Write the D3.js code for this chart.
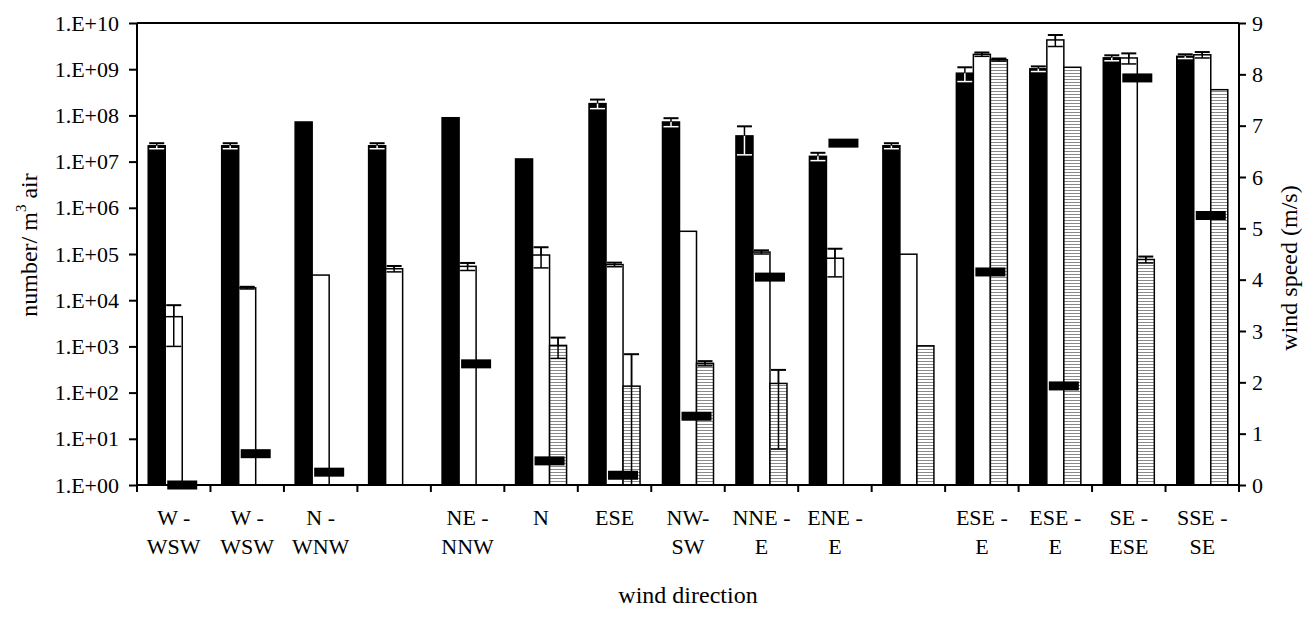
<!DOCTYPE html>
<html>
<head>
<meta charset="utf-8">
<script src="https://cdn.jsdelivr.net/npm/d3@7"></script>
<style>
  body { margin: 0; background: #fff; }
  text { font-family: "Liberation Serif", "Times New Roman", serif; fill: #000; }
  .axis path, .axis line { stroke: #000; stroke-width: 2; }
  .axis text { font-size: 22px; }
</style>
</head>
<body>
<svg></svg>
<script>
// wind direction labels (two lines each)
var dirLine1 = ["W -", "W -", "N -", "", "NE -", "N", "ESE", "NW-", "NNE -", "ENE -", "", "ESE -", "ESE -", "SE -", "SSE -"];
var dirLine2 = ["WSW", "WSW", "WNW", "", "NNW", "", "", "SW", "E", "E", "", "E", "E", "ESE", "SE"];

// black series (number / m3 air) and error
var blackVal = [2.2e7, 2.2e7, 7.2e7, 2.2e7, 8.9e7, 1.14e7, 1.8e8, 7.2e7, 3.6e7, 1.3e7, 2.2e7, 8.2e8, 1.02e9, 1.76e9, 1.9e9];
var blackErr = [3e6, 3e6, 0, 3e6, 0, 0, 4e7, 1.5e7, 2.2e7, 2.5e6, 3e6, 2.8e8, 1.3e8, 2.4e8, 2e8];

// white series
var whiteVal = [4.4e3, 1.85e4, 3.5e4, 4.8e4, 5.4e4, 9.5e4, 5.9e4, 3.1e5, 1.1e5, 8.1e4, 9.9e4, 2.1e9, 4.3e9, 1.75e9, 2.05e9];
var whiteErr = [3.4e3, 1e3, 0, 7e3, 1e4, 4.5e4, 6e3, 0, 1e4, 4.9e4, 0, 2e8, 1.2e9, 4.5e8, 3e8];

// hatched series
var hatchVal = [null, null, null, null, null, 1.05e3, 1.38e2, 4.3e2, 1.58e2, null, 1.03e3, 1.6e9, 1.1e9, 7.6e4, 3.6e8];
var hatchErr = [0, 0, 0, 0, 0, 5e2, 5.4e2, 5e1, 1.52e2, 0, 0, 1e8, 0, 1.2e4, 0];

// wind speed (m/s), right axis
var windSpeed = [0, 0.61, 0.25, null, 2.36, 0.47, 0.19, 1.34, 4.05, 6.66, null, 4.15, 1.93, 7.93, 5.25];

var leftTicks = [1e0, 1e1, 1e2, 1e3, 1e4, 1e5, 1e6, 1e7, 1e8, 1e9, 1e10];
var rightTicks = [0, 1, 2, 3, 4, 5, 6, 7, 8, 9];

var width = 1308, height = 623;
var margin = {top: 23, right: 69, bottom: 138, left: 137};

var svg = d3.select("svg").attr("width", width).attr("height", height);

var defs = svg.append("defs");
var pat = defs.append("pattern")
  .attr("id", "hatch")
  .attr("patternUnits", "userSpaceOnUse")
  .attr("width", 6).attr("height", 3);
pat.append("rect").attr("width", 6).attr("height", 3).attr("fill", "#fff");
pat.append("rect").attr("y", 1).attr("width", 6).attr("height", 1).attr("fill", "#8a8a8a");

var groups = d3.range(blackVal.length);

var x = d3.scaleBand()
  .domain(groups)
  .range([margin.left, width - margin.right])
  .padding(0);

var xs = d3.scaleBand()
  .domain(["black", "white", "hatch"])
  .range([0, x.bandwidth()])
  .paddingInner(0)
  .paddingOuter(0.66);

var y = d3.scaleLog()
  .domain([1, 1e10])
  .range([height - margin.bottom, margin.top])
  .clamp(true);

var y2 = d3.scaleLinear()
  .domain([0, 9])
  .range([height - margin.bottom, margin.top]);

var series = [
  {key: "black", vals: blackVal, errs: blackErr, fill: "#000"},
  {key: "white", vals: whiteVal, errs: whiteErr, fill: "#fff"},
  {key: "hatch", vals: hatchVal, errs: hatchErr, fill: "url(#hatch)"}
];

series.forEach(function(s) {
  var data = groups.filter(function(i) { return s.vals[i] != null; });
  var g = svg.append("g");
  g.selectAll("rect")
    .data(data)
    .enter()
    .append("rect")
    .attr("x", function(i) { return x(i) + xs(s.key); })
    .attr("width", xs.bandwidth())
    .attr("y", function(i) { return y(s.vals[i]); })
    .attr("height", function(i) { return y(1) - y(s.vals[i]); })
    .attr("fill", s.fill)
    .attr("stroke", "#000")
    .attr("stroke-width", 1.5);

  // error bars
  var eb = g.selectAll("g.err")
    .data(data.filter(function(i) { return s.errs[i] > 0; }))
    .enter()
    .append("g")
    .attr("class", "err");
  var cx = function(i) { return x(i) + xs(s.key) + xs.bandwidth() / 2; };
  var hw = xs.bandwidth() / 2 - 1;
  var lo = function(i) { return y(Math.max(1, s.vals[i] - s.errs[i])); };
  var hi = function(i) { return y(s.vals[i] + s.errs[i]); };
  eb.append("line")
    .attr("x1", cx).attr("x2", cx)
    .attr("y1", hi).attr("y2", lo)
    .attr("stroke", s.key == "black" ? "#fff" : "#000")
    .attr("stroke-width", 1.5);
  eb.append("line")
    .attr("x1", cx).attr("x2", cx)
    .attr("y1", hi).attr("y2", function(i) { return y(s.vals[i]); })
    .attr("stroke", "#000")
    .attr("stroke-width", 1.5);
  eb.append("line")
    .attr("x1", function(i) { return cx(i) - hw; })
    .attr("x2", function(i) { return cx(i) + hw; })
    .attr("y1", hi).attr("y2", hi)
    .attr("stroke", "#000")
    .attr("stroke-width", 2);
  eb.filter(function(i) { return s.vals[i] - s.errs[i] > 1; })
    .append("line")
    .attr("x1", function(i) { return cx(i) - hw; })
    .attr("x2", function(i) { return cx(i) + hw; })
    .attr("y1", lo).attr("y2", lo)
    .attr("stroke", s.key == "black" ? "#fff" : "#000")
    .attr("stroke-width", 1.5);
});

// wind speed markers
svg.append("g")
  .selectAll("rect")
  .data(groups.filter(function(i) { return windSpeed[i] != null; }))
  .enter()
  .append("rect")
  .attr("x", function(i) { return x(i) + xs("hatch") - 15; })
  .attr("width", 30)
  .attr("y", function(i) { return y2(windSpeed[i]) - 4.5; })
  .attr("height", 9)
  .attr("fill", "#000");

// frame top
svg.append("line")
  .attr("x1", margin.left).attr("x2", width - margin.right)
  .attr("y1", margin.top).attr("y2", margin.top)
  .attr("stroke", "#000").attr("stroke-width", 2);

// left axis
var yAxis = d3.axisLeft(y)
  .tickValues(leftTicks)
  .tickSize(8)
  .tickPadding(10)
  .tickFormat(function(d) {
    var e = Math.round(Math.log10(d));
    return "1.E+" + (e < 10 ? "0" + e : e);
  });
svg.append("g")
  .attr("class", "axis")
  .attr("transform", "translate(" + margin.left + ",0)")
  .call(yAxis)
  .call(function(g) { g.select(".domain").attr("d", "M0," + margin.top + "V" + (height - margin.bottom)); });

// right axis
var y2Axis = d3.axisRight(y2)
  .tickValues(rightTicks)
  .tickSize(7)
  .tickPadding(6);
svg.append("g")
  .attr("class", "axis")
  .attr("transform", "translate(" + (width - margin.right) + ",0)")
  .call(y2Axis)
  .call(function(g) { g.select(".domain").attr("d", "M0," + margin.top + "V" + (height - margin.bottom + 6)); });

// bottom axis: ticks at group boundaries
var bottom = svg.append("g").attr("class", "axis");
bottom.append("line")
  .attr("x1", margin.left).attr("x2", width - margin.right)
  .attr("y1", y(1)).attr("y2", y(1));
bottom.selectAll("line.tk")
  .data(d3.range(blackVal.length + 1))
  .enter()
  .append("line")
  .attr("class", "tk")
  .attr("x1", function(i) { return margin.left + i * x.step(); })
  .attr("x2", function(i) { return margin.left + i * x.step(); })
  .attr("y1", y(1)).attr("y2", y(1) + 7);

var lab = svg.append("g").selectAll("text")
  .data(groups)
  .enter()
  .append("text")
  .attr("text-anchor", "middle")
  .style("font-size", "22px");
lab.append("tspan")
  .attr("x", function(i) { return x(i) + x.bandwidth() / 2; })
  .attr("y", 525)
  .text(function(i) { return dirLine1[i]; });
lab.append("tspan")
  .attr("x", function(i) { return x(i) + x.bandwidth() / 2; })
  .attr("y", 554)
  .text(function(i) { return dirLine2[i]; });

// axis titles
svg.append("text")
  .attr("x", 688)
  .attr("y", 603)
  .attr("text-anchor", "middle")
  .style("font-size", "24px")
  .text("wind direction");

var lt = svg.append("text")
  .attr("transform", "translate(37,245) rotate(-90)")
  .attr("text-anchor", "middle")
  .style("font-size", "24px");
lt.append("tspan").text("number/ m");
lt.append("tspan").attr("dy", -11).style("font-size", "15px").text("3");
lt.append("tspan").attr("dy", 11).text(" air");

svg.append("text")
  .attr("transform", "translate(1297,268) rotate(-90)")
  .attr("text-anchor", "middle")
  .style("font-size", "24px")
  .text("wind speed (m/s)");
</script>
</body>
</html>
